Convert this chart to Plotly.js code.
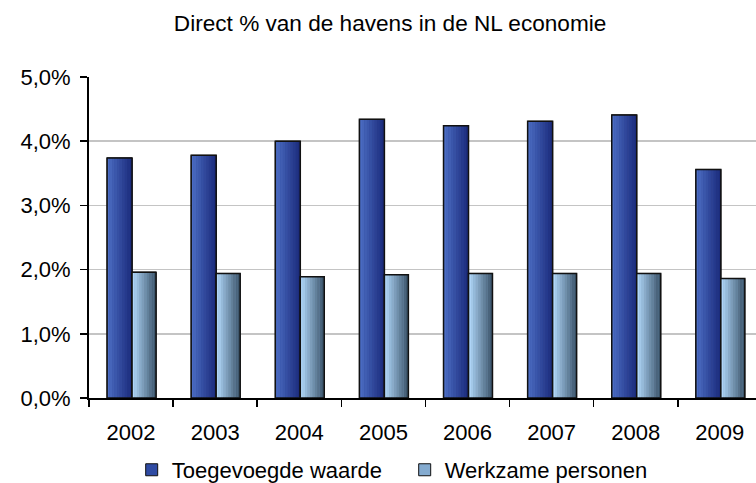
<!DOCTYPE html>
<html>
<head>
<meta charset="utf-8">
<script src="https://cdn.plot.ly/plotly-3.0.1.min.js"></script>
<style>html,body{margin:0;padding:0;background:#fff;}#chart{width:756px;height:483px;}</style>
</head>
<body>
<div id="chart"></div>
<script>
// ---- data ----
const years = ["2002", "2003", "2004", "2005", "2006", "2007", "2008", "2009"];
const toegevoegdeWaarde = [3.74, 3.78, 4.00, 4.34, 4.24, 4.31, 4.41, 3.56];
const werkzamePersonen = [1.96, 1.94, 1.89, 1.92, 1.94, 1.94, 1.94, 1.86];
const seriesNames = ["Toegevoegde waarde", "Werkzame personen"];
const yTickValues = [0, 1, 2, 3, 4, 5];
const yTickLabels = ["0,0%", "1,0%", "2,0%", "3,0%", "4,0%", "5,0%"];

// ---- styling ----
function hex2rgb(h){return [parseInt(h.slice(1,3),16),parseInt(h.slice(3,5),16),parseInt(h.slice(5,7),16)];}
function mix(a,b,t){const A=hex2rgb(a),B=hex2rgb(b);return 'rgb('+A.map((v,i)=>Math.round(v+(B[i]-v)*t)).join(',')+')';}

const FONT = "'Liberation Sans', Arial, sans-serif";
const series = [
  {name: seriesNames[0], y: toegevoegdeWaarde, offset: -0.285, width: 0.297, c0: '#4b6cc2', c1: '#1c2c7c', mid: '#2f4ba3'},
  {name: seriesNames[1], y: werkzamePersonen, offset: 0.012, width: 0.285, c0: '#b0d6f8', c1: '#3d566c', mid: '#84abd0'}
];
const STRIPS = 10;
const traces = [];
series.forEach(s => {
  traces.push({type:'bar', x: years, y: s.y, name: s.name, offset: s.offset, width: s.width,
    marker:{color: s.mid, line:{color:'#111', width:1}}, showlegend:true, hoverinfo:'y', legendgroup:s.name});
  for (let i = 0; i < STRIPS; i++) {
    const t = i/(STRIPS-1);
    const w = s.width/STRIPS;
    traces.push({type:'bar', x: years, y: s.y, offset: s.offset + i*w, width: w*1.05,
      marker:{color: mix(s.c0, s.c1, t), line:{width:0}}, showlegend:false, hoverinfo:'skip', legendgroup:s.name});
  }
  traces.push({type:'bar', x: years, y: s.y, offset: s.offset, width: s.width,
    marker:{color:'rgba(0,0,0,0)', line:{color:'#111', width:1.5}}, showlegend:false, hoverinfo:'skip', legendgroup:s.name});
});

const layout = {
  width: 756, height: 483,
  margin: {l: 89, r: 0, t: 77, b: 85, pad: 0, autoexpand: false},
  paper_bgcolor: '#ffffff', plot_bgcolor: '#ffffff',
  barmode: 'overlay',
  font: {family: FONT, color: '#000', size: 22},
  title: {text: 'Direct % van de havens in de NL economie', font: {family: FONT, size: 22.6, color: '#000'},
          xref: 'container', x: 0.516, xanchor: 'center', yref: 'container', y: 0.952, yanchor: 'middle'},
  xaxis: {type: 'category', range: [-0.5, 7.43], showgrid: false, zeroline: false, automargin: false,
          showline: true, linecolor: '#000', linewidth: 2,
          ticks: 'outside', tickson: 'boundaries', ticklen: 7, tickwidth: 1.5, tickcolor: '#000',
          tickfont: {family: FONT, size: 22, color: '#000'}, ticklabelstandoff: 14, fixedrange: true},
  yaxis: {range: [0, 5], tickmode: 'array', tickvals: yTickValues, ticktext: yTickLabels, automargin: false,
          showgrid: true, gridcolor: '#c4c4c4', gridwidth: 1.5, zeroline: false,
          showline: true, linecolor: '#000', linewidth: 2,
          ticks: 'outside', ticklen: 7, tickwidth: 1.5, tickcolor: '#000',
          tickfont: {family: FONT, size: 22, color: '#000'}, ticklabelstandoff: 5, fixedrange: true},
  legend: {orientation: 'h', xref: 'container', x: 0.1742, xanchor: 'left',
           yref: 'container', y: 0.027, yanchor: 'middle',
           font: {family: FONT, size: 22, color: '#000'}, entrywidth: 228, entrywidthmode: 'pixels',
           bgcolor: 'rgba(0,0,0,0)', itemclick: false, itemdoubleclick: false},
  showlegend: true
};

Plotly.newPlot('chart', traces, layout, {displayModeBar: false, staticPlot: true});
</script>
</body>
</html>
